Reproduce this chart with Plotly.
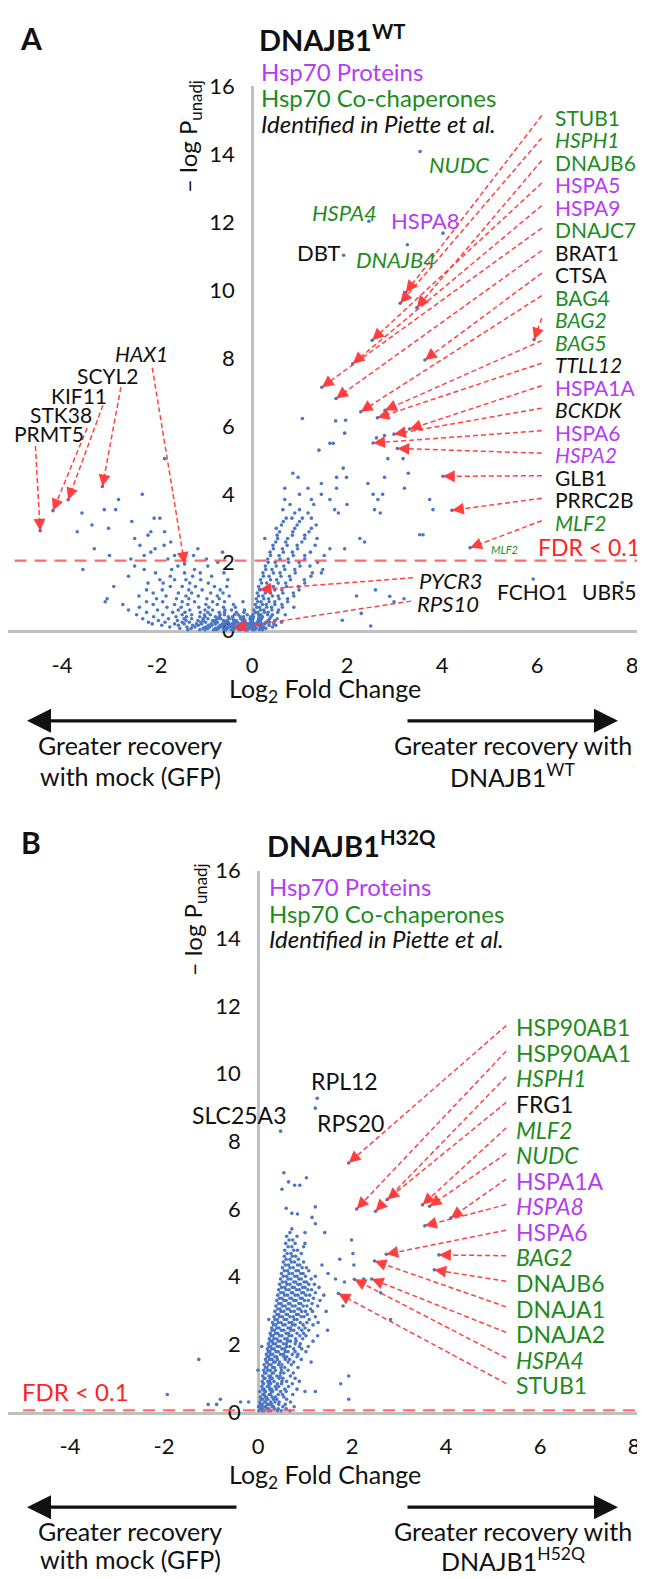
import math
import plotly.graph_objects as go

W, H = 645, 1579
FONT = "Lato"
PURPLE = "#B43CF2"
GREEN = "#1E8B1E"
BLACK = "#111111"
RED = "#FF2323"
DASH_RED = "rgba(255,55,55,0.95)"
BLUE = "#4A76C6"

# ---------------- Panel A (DNAJB1 WT) ----------------
# background proteins: rows of (-log P, [log2 FC ...])
A_ROWS = [
    (0.02, [-1.35, -1.1, -0.99, -0.81, -0.75, -0.6, -0.55, -0.44, -0.4, -0.28, -0.24, -0.13, -0.1, 0.01, 0.05, 0.16, 0.22]),
    (0.06, [-1.52, -1.28, -1.03, -0.93, -0.77, -0.7, -0.56, -0.52, -0.4, -0.36, -0.25, -0.19, -0.09, -0.05, 0.04, 0.09, 0.21, 0.29]),
    (0.1, [-1.73, -1.37, -1.2, -0.98, -0.89, -0.71, -0.65, -0.51, -0.47, -0.35, -0.31, -0.19, -0.16, -0.05, 0.02, 0.06, 0.17, 0.24, 0.43]),
    (0.15, [-1.9, -1.55, -1.25, -1.13, -0.92, -0.84, -0.67, -0.61, -0.47, -0.42, -0.3, -0.26, -0.14, -0.11, 0.0, 0.03, 0.14, 0.19, 0.36, 0.5]),
    (0.19, [-2.1, -1.63, -1.43, -1.17, -1.06, -0.86, -0.77, -0.62, -0.56, -0.42, -0.37, -0.25, -0.21, -0.09, -0.05, 0.06, 0.09, 0.21, 0.27, 0.46]),
    (0.24, [-2.18, -1.83, -1.47, -1.32, -1.08, -0.98, -0.79, -0.73, -0.56, -0.5, -0.36, -0.31, -0.18, -0.14, -0.02, 0.01, 0.12, 0.16, 0.29, 0.37, 0.62]),
    (0.29, [-1.97, -1.57, -1.39, -1.14, -1.03, -0.83, -0.77, -0.6, -0.53, -0.39, -0.33, -0.2, -0.15, -0.03, 0.01, 0.13, 0.18, 0.34, 0.48]),
    (0.34, [-2.3, -1.76, -1.43, -1.27, -1.03, -0.93, -0.73, -0.66, -0.48, -0.4, -0.24, -0.17, -0.04, 0.02, 0.14, 0.2, 0.37, 0.53]),
    (0.4, [-2.07, -1.6, -1.38, -1.1, -0.99, -0.77, -0.69, -0.5, -0.41, -0.25, -0.18, -0.03, 0.03, 0.15, 0.22, 0.4]),
    (0.46, [-2.43, -1.88, -1.47, -1.27, -1.0, -0.88, -0.67, -0.58, -0.37, -0.29, -0.1, 0.02, 0.14, 0.19, 0.33, 0.43, 0.7]),
    (0.53, [-2.22, -1.67, -1.41, -1.09, -0.93, -0.69, -0.58, -0.33, -0.17, 0.07, 0.12, 0.26, 0.34, 0.54]),
    (0.6, [-2.6, -1.99, -1.55, -1.31, -0.99, -0.83, -0.57, -0.43, -0.16, 0.04, 0.18, 0.25, 0.42, 0.56]),
    (0.68, [-2.37, -1.79, -1.49, -1.12, -0.91, -0.6, -0.35, 0.1, 0.16, 0.31, 0.41, 0.64, 0.88]),
    (0.76, [-2.72, -2.08, -1.63, -1.35, -0.97, -0.73, -0.39, 0.07, 0.22, 0.3, 0.48, 0.63]),
    (0.84, [-3.09, -2.22, -1.88, -1.47, -1.21, -0.83, -0.58, -0.19, 0.12, 0.19, 0.36, 0.48, 0.75, 2.99]),
    (0.93, [-3.05, -2.01, -1.59, -1.33, -0.95, -0.69, 0.09, 0.25, 0.35, 0.57, 0.75, 3.2]),
    (1.01, [-2.38, -1.81, -1.39, -1.13, -0.73, -0.48, 0.14, 0.23, 0.43, 0.55, 0.88, 2.2]),
    (1.1, [-2.08, -1.55, -1.27, -0.87, -0.61, 0.11, 0.28, 0.39, 0.65, 0.87]),
    (1.19, [-2.22, -1.89, -1.33, -1.05, -0.67, 0.17, 0.26, 0.48, 0.63, 0.99, 2.6]),
    (1.29, [-2.91, -1.72, -1.47, -1.19, -0.79, -0.53, 0.14, 0.34, 0.45, 0.73, 0.98]),
    (1.39, [-2.19, -1.87, -1.31, -0.92, 0.2, 0.31, 0.55, 0.71, 1.11]),
    (1.49, [-1.94, -1.63, -1.39, -1.08, -0.51, 0.18, 0.39, 0.52, 0.81, 1.1]),
    (1.59, [-2.6, -1.72, -1.25, -0.85, 0.24, 0.36, 0.61, 0.79, 1.24]),
    (1.69, [-2.03, -1.42, -1.09, -0.59, 0.23, 0.45, 0.59, 0.91, 1.27, 1.46]),
    (1.79, [-3.56, -2.27, -1.69, -1.21, 0.29, 0.42, 0.69, 0.9, 1.49]),
    (1.89, [-2.47, -1.56, -0.93, 0.28, 0.51, 0.67, 1.01, 1.22]),
    (2.0, [-0.72, 0.34, 0.49, 0.77, 0.99, 1.38]),
    (2.1, [-2.55, -1.77, -0.96, 0.33, 0.59, 0.76, 1.11]),
    (2.2, [-3.0, -2.27, -1.63, -1.23, 0.39, 0.57, 0.87, 1.11, 1.52]),
    (2.3, [-2.13, -0.62, 0.38, 0.66, 0.85, 1.23]),
    (2.4, [-3.32, -2.04, -1.14, 0.45, 0.64, 0.96, 1.64, 1.95]),
    (2.5, [-2.36, -1.85, 0.44, 0.74, 0.95, 1.33]),
    (2.6, [-1.71, 0.5, 0.71, 1.05, 2.37]),
    (2.7, [-2.47, 0.27, 0.54, 0.75, 1.11, 1.37, 2.27]),
    (2.8, [-2.19, 0.53, 0.85, 1.11]),
    (2.9, [-3.68, -2.13, -1.84, 0.58, 0.86, 1.2]),
    (3.0, [-3.02, 0.51, 0.9, 1.25]),
    (3.1, [-3.37, 0.62, 0.95, 1.35]),
    (3.2, [-2.53, 0.66, 1.0]),
    (3.3, [-2.06, -1.94, 0.72, 0.84, 1.06, 1.25]),
    (3.45, [-3.58, 0.9, 1.18, 1.82, 2.7]),
    (3.55, [-3.11, -2.87, 0.65, 1.0, 1.74, 2.58, 3.81]),
    (3.7, [0.8, 1.3, 2.0]),
    (3.85, [-2.81, 0.69, 1.25, 1.64, 2.65, 3.74]),
    (4.0, [-2.31, 1.0, 1.46, 2.55, 2.75]),
    (4.18, [0.69, 1.18, 1.78, 3.21]),
    (4.32, [1.46, 2.44]),
    (4.5, [0.97, 1.78, 1.99, 2.79]),
    (4.62, [0.86, 3.29]),
    (4.77, [1.92]),
    (5.05, [-1.84, 2.86, 3.18]),
    (5.3, [1.41]),
    (5.5, [1.64, 1.71]),
]
A_SPARSE_LFC = [1.06, 1.76, 1.97, 1.95, 2.62, 3.18, 2.79, 2.5, 5.92, 7.79, 3.53, 1.9, 2.3, 2.9, 3.6]
A_SPARSE_P = [6.23, 6.16, 6.18, 5.80, 5.66, 5.88, 5.73, 0.13, 1.51, 1.41, 2.81, 0.3, 0.5, 1.0, 2.81]

# labelled proteins without arrows
A_TAG_NAMES = ["NUDC", "HSPA4", "HSPA8", "DBT", "DNAJB4"]
A_TAG_LFC = [3.54, 2.46, 4.02, 1.93, 3.27]
A_TAG_P = [14.08, 12.03, 11.68, 11.03, 11.34]

# right-hand column of labels with arrows
A_RIGHT_NAMES = ["STUB1", "HSPH1", "DNAJB6", "HSPA5", "HSPA9", "DNAJC7", "BRAT1", "CTSA",
                 "BAG4", "BAG2", "BAG5", "TTLL12", "HSPA1A", "BCKDK", "HSPA6", "HSPA2",
                 "GLB1", "PRRC2B", "MLF2"]
A_RIGHT_CLASS = ["co", "co_i", "co", "hsp", "hsp", "co", "pi", "pi",
                 "co", "co_i", "co_i", "pi_i", "hsp", "pi_i", "hsp", "hsp_i",
                 "pi", "pi", "co_i"]
A_RIGHT_LFC = [3.24, 3.12, 3.47, 2.53, 2.12, 1.47, 1.77, 3.64,
               2.29, 5.94, 2.80, 2.64, 3.32, 2.99, 2.55, 3.06,
               4.02, 4.21, 4.59]
A_RIGHT_P = [9.94, 9.62, 9.49, 8.53, 7.84, 7.15, 6.82, 7.95,
             6.43, 8.55, 6.47, 6.25, 5.92, 5.77, 5.51, 5.35,
             4.53, 3.53, 2.43]

# left-hand labels with arrows
A_LEFT_NAMES = ["HAX1", "SCYL2", "KIF11", "STK38", "PRMT5"]
A_LEFT_CLASS = ["pi_i", "pi", "pi", "pi", "pi"]
A_LEFT_LFC = [-1.42, -3.15, -3.87, -4.19, -4.46]
A_LEFT_P = [1.95, 4.23, 3.84, 3.52, 2.93]

# low labels with arrows
A_LOW_NAMES = ["PYCR3", "RPS10"]
A_LOW_LFC = [0.16, -0.38]
A_LOW_P = [1.20, 0.07]

A_FDR = 2.05

# ---------------- Panel B (DNAJB1 H32Q) ----------------
B_ROWS = [
    (0.03, [0.02, 0.09, 0.13, 0.22, 0.27, 0.41, 0.49, 0.68]),
    (0.09, [0.06, 0.1, 0.19, 0.23, 0.35, 0.43, 0.6]),
    (0.15, [0.01, 0.08, 0.15, 0.17, 0.3, 0.33, 0.53, 0.77]),
    (0.22, [-1.06, -0.88, 0.05, 0.09, 0.2, 0.24, 0.29, 0.44, 0.58]),
    (0.29, [-0.37, -0.2, 0.04, 0.14, 0.16, 0.27, 0.36, 0.45, 0.69]),
    (0.37, [-0.8, 0.07, 0.1, 0.19, 0.21, 0.33, 0.4, 0.61, 1.93]),
    (0.44, [0.05, 0.15, 0.18, 0.3, 0.37, 0.55]),
    (0.51, [-1.93, 0.1, 0.13, 0.24, 0.27, 0.43, 0.52, 0.74]),
    (0.6, [0.04, 0.14, 0.16, 0.28, 0.31, 0.48, 0.6, 1.0, 1.22]),
    (0.67, [0.1, 0.13, 0.25, 0.29, 0.39, 0.57, 0.83]),
    (0.75, [0.08, 0.2, 0.23, 0.37, 0.44, 0.65]),
    (0.83, [0.11, 0.12, 0.23, 0.27, 0.41, 0.5, 0.73, 1.76]),
    (0.9, [0.09, 0.21, 0.25, 0.34, 0.51, 0.61, 0.88]),
    (0.99, [0.13, 0.15, 0.26, 0.3, 0.45, 0.53, 0.79]),
    (1.06, [0.1, 0.23, 0.27, 0.4, 0.47, 0.69, 1.93]),
    (1.15, [0.14, 0.17, 0.3, 0.33, 0.48, 0.55, 0.75]),
    (1.23, [0.0, 0.12, 0.21, 0.26, 0.37, 0.5, 0.64]),
    (1.31, [0.16, 0.19, 0.31, 0.35, 0.49, 0.57, 0.85]),
    (1.39, [0.13, 0.23, 0.28, 0.44, 0.51, 0.71]),
    (1.47, [0.18, 0.2, 0.33, 0.37, 0.46, 0.64, 0.76, 1.13]),
    (1.55, [-1.26, 0.16, 0.25, 0.3, 0.41, 0.58, 0.67, 0.92]),
    (1.63, [0.2, 0.23, 0.36, 0.4, 0.55, 0.61, 0.83]),
    (1.7, [0.18, 0.27, 0.31, 0.48, 0.54, 0.73, 0.85]),
    (1.78, [0.22, 0.25, 0.38, 0.43, 0.58, 0.64, 0.79, 1.02]),
    (1.86, [0.2, 0.29, 0.34, 0.51, 0.57, 0.76, 0.93]),
    (1.93, [0.08, 0.24, 0.27, 0.41, 0.46, 0.61, 0.68, 0.88, 1.07]),
    (2.01, [0.22, 0.32, 0.37, 0.54, 0.6, 0.79, 0.9]),
    (2.09, [0.26, 0.3, 0.43, 0.48, 0.63, 0.69, 0.81, 1.17]),
    (2.16, [0.24, 0.34, 0.4, 0.57, 0.62, 0.8, 0.95]),
    (2.25, [0.28, 0.32, 0.46, 0.51, 0.66, 0.72, 0.89, 1.02, 1.27]),
    (2.32, [0.26, 0.37, 0.42, 0.6, 0.65, 0.83, 0.97]),
    (2.41, [0.3, 0.35, 0.5, 0.55, 0.7, 0.76, 0.93, 1.08, 1.48]),
    (2.48, [0.29, 0.4, 0.45, 0.64, 0.69, 0.87, 1.0]),
    (2.57, [0.33, 0.38, 0.53, 0.58, 0.73, 0.79, 0.96, 1.17]),
    (2.64, [0.31, 0.43, 0.49, 0.66, 0.72, 0.9, 1.04, 1.28]),
    (2.73, [0.23, 0.36, 0.41, 0.56, 0.61, 0.77, 0.83, 1.09, 2.82]),
    (2.81, [0.34, 0.46, 0.52, 0.68, 0.75, 0.92, 0.98, 1.22]),
    (2.88, [0.4, 0.44, 0.6, 0.63, 0.82, 0.86, 1.05]),
    (2.97, [0.36, 0.49, 0.55, 0.7, 0.77, 0.93, 1.01, 1.16, 1.45]),
    (3.04, [0.42, 0.47, 0.62, 0.66, 0.85, 0.89, 1.12]),
    (3.13, [0.38, 0.52, 0.58, 0.73, 0.79, 0.96, 1.04, 1.27, 1.81]),
    (3.2, [0.44, 0.49, 0.65, 0.68, 0.87, 0.91, 1.15]),
    (3.29, [0.4, 0.55, 0.6, 0.76, 0.81, 0.99, 1.07, 1.32]),
    (3.36, [0.46, 0.51, 0.68, 0.71, 0.9, 0.94, 1.18]),
    (3.45, [0.42, 0.57, 0.63, 0.79, 0.85, 1.02, 1.1, 1.4]),
    (3.52, [0.48, 0.54, 0.71, 0.74, 0.93, 0.97, 1.22, 2.61]),
    (3.61, [0.44, 0.6, 0.66, 0.82, 0.88, 1.06, 1.14]),
    (3.68, [0.5, 0.57, 0.73, 0.77, 0.95, 1.0, 1.3]),
    (3.77, [0.46, 0.62, 0.68, 0.85, 0.9, 1.08, 1.2]),
    (3.84, [0.52, 0.59, 0.76, 0.8, 0.98, 1.03, 1.84]),
    (3.93, [0.48, 0.64, 0.7, 0.87, 0.92, 1.13, 1.65, 2.25]),
    (4.01, [0.54, 0.61, 0.78, 0.83, 1.01, 1.22]),
    (4.09, [0.5, 0.66, 0.73, 0.91, 0.96, 1.49]),
    (4.17, [0.56, 0.63, 0.81, 0.86, 1.08]),
    (4.26, [0.52, 0.68, 0.75, 0.94, 1.03]),
    (4.34, [0.58, 0.65, 0.84, 0.89, 1.36, 2.04]),
    (4.43, [0.54, 0.71, 0.78, 0.97]),
    (4.51, [0.6, 0.68, 0.86, 1.74]),
    (4.6, [0.56, 0.73, 0.8]),
    (4.68, [0.62, 0.7, 0.92, 2.02]),
    (4.78, [0.57, 0.76, 0.84]),
    (4.88, [0.64, 0.72, 0.97]),
    (4.98, [0.59, 0.79, 1.0]),
    (5.08, [0.66, 0.74, 1.99]),
    (5.19, [0.61, 0.83]),
    (5.3, [0.68, 1.0, 1.42]),
    (5.41, [0.72]),
]
B_SPARSE_LFC = [1.22, 1.15, 0.72, 0.84, 0.6, 1.22, 0.51, 0.55, 0.65, 0.78, 0.89, 1.03, 1.26, 1.22, 0.48]
B_SPARSE_P = [5.56, 5.75, 5.87, 5.85, 6.02, 6.06, 6.58, 7.07, 6.8, 6.7, 6.7, 6.92, 9.27, 8.98, 8.30]

B_RIGHT_NAMES = ["HSP90AB1", "HSP90AA1", "HSPH1", "FRG1", "MLF2", "NUDC", "HSPA1A", "HSPA8",
                 "HSPA6", "BAG2", "DNAJB6", "DNAJA1", "DNAJA2", "HSPA4", "STUB1"]
B_RIGHT_CLASS = ["co", "co", "co_i", "pi", "co_i", "co_i", "hsp", "hsp_i",
                 "hsp", "co_i", "co", "co", "co", "co_i", "co"]
B_RIGHT_LFC = [1.93, 2.10, 2.50, 2.75, 3.50, 3.65, 4.10, 3.55,
               2.73, 3.85, 3.75, 2.48, 2.42, 2.05, 1.71]
B_RIGHT_P = [7.36, 6.00, 5.93, 6.28, 6.12, 6.08, 5.73, 5.50,
             4.66, 4.64, 4.20, 4.46, 3.93, 3.92, 3.50]

B_FDR = 0.04

# ---------------- geometry ----------------
A_XR = [-5.137, 8.442]
A_YD = [0.6080, 0.9586]
B_XR = [-5.319, 8.404]
B_YD = [0.1045, 0.4531]

LAB_A, LAB_B = 21, 23


def kx(xr):
    return W / (xr[1] - xr[0])


def ky(yd):
    return (yd[1] - yd[0]) * H / 16.0


def fmt(name, cls):
    color = {"co": GREEN, "hsp": PURPLE, "pi": BLACK}[cls.split("_")[0]]
    return ("<i>%s</i>" % name if cls.endswith("_i") else name), color


fig = go.Figure()
ann = []


def flat(rows):
    xs, ys = [], []
    for y, row in rows:
        for x in row:
            xs.append(x)
            ys.append(y)
    return xs, ys


def arrow(xa, ya, tx, ty, hx, hy, sx, sy, segs):
    segs[0] += [tx, hx, None]
    segs[1] += [ty, hy, None]
    dx = (hx - tx) * sx
    dy = -(hy - ty) * sy
    n = math.hypot(dx, dy)
    L = 10
    ann.append(dict(x=hx, y=hy, xref=xa, yref=ya, ax=-dx / n * L, ay=-dy / n * L,
                    text="", showarrow=True, arrowhead=2, arrowsize=1.7,
                    arrowwidth=1.4, arrowcolor=DASH_RED))


def label(xa, ya, x, y, text, color, size, xanchor="left"):
    ann.append(dict(x=x, y=y, xref=xa, yref=ya, text=text, showarrow=False,
                    xanchor=xanchor, yanchor="middle",
                    font=dict(family=FONT, size=size, color=color)))


def paper(px, py, text, size, color=BLACK, xanchor="center", angle=0):
    ann.append(dict(x=px / W, y=1 - py / H, xref="paper", yref="paper", text=text,
                    showarrow=False, xanchor=xanchor, yanchor="middle", textangle=angle,
                    font=dict(family=FONT, size=size, color=color)))


# ---- panel A ----
sxA, syA = kx(A_XR), ky(A_YD)
pax, pay = flat(A_ROWS)
pax += A_SPARSE_LFC + A_TAG_LFC + A_RIGHT_LFC + A_LEFT_LFC + A_LOW_LFC
pay += A_SPARSE_P + A_TAG_P + A_RIGHT_P + A_LEFT_P + A_LOW_P
fig.add_trace(go.Scatter(x=pax, y=pay, mode="markers", xaxis="x", yaxis="y",
                         marker=dict(size=3.6, color=BLUE), cliponaxis=False, hoverinfo="x+y"))
fig.add_trace(go.Scatter(x=[-5.0, 8.3], y=[A_FDR, A_FDR], mode="lines", xaxis="x", yaxis="y",
                         line=dict(color="rgba(255,90,90,0.9)", width=2.2, dash="12px,8px"),
                         hoverinfo="skip"))

segA = [[], []]
top, pitch = 15.09, 0.662
for i, (nm, cl) in enumerate(zip(A_RIGHT_NAMES, A_RIGHT_CLASS)):
    ly = top - pitch * i
    t, c = fmt(nm, cl)
    label("x", "y", 6.33, ly, t, c, LAB_A)
    arrow("x", "y", 6.1, ly + 0.05, A_RIGHT_LFC[i], A_RIGHT_P[i], sxA, syA, segA)
label("x", "y", 8.22, top - pitch * 19 - 0.05, "FDR < 0.1", RED, 23, xanchor="right")

left_lab = [(-2.32, 8.15), (-3.03, 7.49), (-3.64, 6.91), (-4.02, 6.36), (-4.27, 5.78)]
left_tail = [(-2.1, 7.72), (-2.76, 7.15), (-3.14, 6.62), (-3.47, 5.95), (-4.56, 5.42)]
for i, (nm, cl) in enumerate(zip(A_LEFT_NAMES, A_LEFT_CLASS)):
    t, c = fmt(nm, cl)
    label("x", "y", left_lab[i][0], left_lab[i][1], t, c, 21, xanchor="center")
    arrow("x", "y", left_tail[i][0], left_tail[i][1], A_LEFT_LFC[i], A_LEFT_P[i], sxA, syA, segA)

low_lab = [(3.47, 1.47), (3.43, 0.78)]
for i, nm in enumerate(A_LOW_NAMES):
    label("x", "y", low_lab[i][0], low_lab[i][1], "<i>%s</i>" % nm, BLACK, 22)
    arrow("x", "y", low_lab[i][0] - 0.08, low_lab[i][1] + 0.08, A_LOW_LFC[i], A_LOW_P[i], sxA, syA, segA)

label("x", "y", 5.12, 1.13, "FCHO1", BLACK, 21)
label("x", "y", 6.9, 1.13, "UBR5", BLACK, 21)
label("x", "y", 4.99, 2.37, "<i>MLF2</i>", GREEN, 11)

tag_pos = [(4.35, 13.7), (1.94, 12.3), (3.66, 12.06), (1.41, 11.1), (3.03, 10.9)]
tag_cls = ["co_i", "co_i", "hsp", "pi", "co_i"]
for i, nm in enumerate(A_TAG_NAMES):
    t, c = fmt(nm, tag_cls[i])
    label("x", "y", tag_pos[i][0], tag_pos[i][1], t, c, 22, xanchor="center")

fig.add_trace(go.Scatter(x=segA[0], y=segA[1], mode="lines", xaxis="x", yaxis="y",
                         line=dict(color=DASH_RED, width=1.5, dash="5px,3px"), hoverinfo="skip"))

# ---- panel B ----
sxB, syB = kx(B_XR), ky(B_YD)
pbx, pby = flat(B_ROWS)
pbx += B_SPARSE_LFC + B_RIGHT_LFC
pby += B_SPARSE_P + B_RIGHT_P
fig.add_trace(go.Scatter(x=pbx, y=pby, mode="markers", xaxis="x2", yaxis="y2",
                         marker=dict(size=3.6, color=BLUE), cliponaxis=False, hoverinfo="x+y"))
fig.add_trace(go.Scatter(x=[-5.0, 8.3], y=[B_FDR, B_FDR], mode="lines", xaxis="x2", yaxis="y2",
                         line=dict(color="rgba(255,90,90,0.9)", width=2.2, dash="12px,8px"),
                         hoverinfo="skip", cliponaxis=False))
segB = [[], []]
topB, pitchB = 11.37, 0.756
for i, (nm, cl) in enumerate(zip(B_RIGHT_NAMES, B_RIGHT_CLASS)):
    ly = topB - pitchB * i
    t, c = fmt(nm, cl)
    label("x2", "y2", 5.45, ly, t, c, LAB_B)
    arrow("x2", "y2", 5.28, ly + 0.05, B_RIGHT_LFC[i], B_RIGHT_P[i], sxB, syB, segB)
fig.add_trace(go.Scatter(x=segB[0], y=segB[1], mode="lines", xaxis="x2", yaxis="y2",
                         line=dict(color=DASH_RED, width=1.5, dash="5px,3px"), hoverinfo="skip"))
label("x2", "y2", 1.85, 9.77, "RPL12", BLACK, 23, xanchor="center")
label("x2", "y2", -0.40, 8.78, "SLC25A3", BLACK, 23, xanchor="center")
label("x2", "y2", 1.97, 8.55, "RPS20", BLACK, 23, xanchor="center")
label("x2", "y2", -5.06, 0.61, "FDR < 0.1", RED, 24)

# ---- panel furniture (paper positions) ----
paper(249, 16, "<b>DNAJB1<sup>WT</sup></b>", 29, xanchor="left")
paper(257, 836, "<b>DNAJB1<sup>H32Q</sup></b>", 29, xanchor="left")
paper(23, 16, "<b>A</b>", 30)
paper(23, 834, "<b>B</b>", 30)

for lx, ys in [(251, (50, 77, 103)), (259, (880, 907, 932))]:
    paper(lx, ys[0], "Hsp70 Proteins", 24, PURPLE, xanchor="left")
    paper(lx, ys[1], "Hsp70 Co-chaperones", 24, GREEN, xanchor="left")
    paper(lx, ys[2], "<i>Identified in Piette et al.</i>", 24, BLACK, xanchor="left")

paper(182, 117, "– log P<sub>unadj</sub>", 24, angle=-90)
paper(186, 914, "– log P<sub>unadj</sub>", 24, angle=-90)
paper(317, 680, "Log<sub>2</sub> Fold Change", 25)
paper(317, 1479, "Log<sub>2</sub> Fold Change", 25)

for ya, yt1, yt2, sup in [(711, 736, 767, "WT"), (1511, 1535, 1564, "H52Q")]:
    ann.append(dict(x=19 / W, y=1 - ya / H, xref="paper", yref="paper", ax=211, ay=0,
                    text="", showarrow=True, arrowhead=2, arrowsize=1.5, arrowwidth=3.2,
                    arrowcolor=BLACK))
    ann.append(dict(x=610 / W, y=1 - ya / H, xref="paper", yref="paper", ax=-212, ay=0,
                    text="", showarrow=True, arrowhead=2, arrowsize=1.5, arrowwidth=3.2,
                    arrowcolor=BLACK))
    paper(122, yt1, "Greater recovery", 25)
    paper(122, yt2, "with mock (GFP)", 25)
    paper(505, yt1, "Greater recovery with", 25)
    paper(505, yt2, "DNAJB1<sup>%s</sup>" % sup, 25)

tick_x = [-4, -2, 0, 2, 4, 6, 8]
tick_y = [0, 2, 4, 6, 8, 10, 12, 14, 16]
common_x = dict(showline=True, linecolor="#C0C0C0", linewidth=2.5, showgrid=False, zeroline=False,
                tickvals=tick_x, ticktext=[str(v) for v in tick_x], ticks="outside", ticklen=13,
                tickcolor="rgba(0,0,0,0)", tickfont=dict(family=FONT, size=22, color=BLACK),
                layer="below traces", fixedrange=True)
common_y = dict(showline=True, linecolor="#C0C0C0", linewidth=2.5, showgrid=False, zeroline=False,
                tickvals=tick_y, ticks="outside", ticklen=12, tickcolor="rgba(0,0,0,0)",
                tickfont=dict(family=FONT, size=22, color=BLACK), range=[0, 16],
                layer="below traces", anchor="free", fixedrange=True)

fig.update_layout(
    width=W, height=H, margin=dict(l=0, r=0, t=0, b=0),
    paper_bgcolor="white", plot_bgcolor="white", showlegend=False,
    font=dict(family=FONT, color=BLACK),
    xaxis=dict(domain=[0, 1], range=A_XR, anchor="y", **common_x),
    yaxis=dict(domain=A_YD, position=244 / W, **common_y),
    xaxis2=dict(domain=[0, 1], range=B_XR, anchor="y2", **common_x),
    yaxis2=dict(domain=B_YD, position=250 / W, **common_y),
    annotations=ann,
)

fig.write_html("out.html")
